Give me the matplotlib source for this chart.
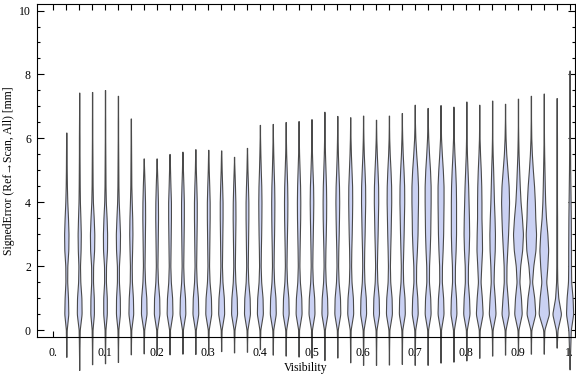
import numpy as np
import matplotlib.pyplot as plt

plt.rcParams['font.family'] = ['Liberation Serif', 'DejaVu Serif']

# violin positions (visibility bins)
visibility = [0.025, 0.05, 0.075, 0.1, 0.125, 0.15, 0.175, 0.2, 0.225, 0.25,
              0.275, 0.3, 0.325, 0.35, 0.375, 0.4, 0.425, 0.45, 0.475, 0.5,
              0.525, 0.55, 0.575, 0.6, 0.625, 0.65, 0.675, 0.7, 0.725, 0.75,
              0.775, 0.8, 0.825, 0.85, 0.875, 0.9, 0.925, 0.95, 0.975, 1.0]

# max / min of the signed error per bin [mm]
err_max = [6.18, 7.43, 7.45, 7.51, 7.33, 6.62, 5.37, 5.37, 5.51, 5.58,
           5.66, 5.64, 5.62, 5.42, 5.70, 6.42, 6.45, 6.51, 6.54, 6.60,
           6.83, 6.70, 6.66, 6.71, 6.58, 6.71, 6.79, 7.05, 6.95, 7.04,
           6.99, 7.15, 7.05, 7.18, 7.08, 7.24, 7.33, 7.40, 7.26, 8.12]
err_min = [-0.84, -1.25, -1.07, -1.04, -1.00, -0.76, -0.73, -0.76, -0.76, -0.74,
           -0.75, -0.76, -0.66, -0.70, -0.68, -0.60, -0.77, -0.80, -0.83, -0.86,
           -0.94, -0.86, -1.01, -1.09, -1.09, -1.08, -1.06, -1.09, -1.09, -1.02,
           -0.99, -0.95, -0.87, -0.80, -0.77, -0.77, -0.74, -0.74, -0.55, -1.23]

# density read at these error levels [mm]
levels = [0.0, 0.5, 1.0, 1.5, 2.0, 2.5, 3.0, 3.5, 4.0, 4.5, 5.0, 5.5, 6.0, 6.5, 7.0]
density = [
    [0.4, 2.0, 1.7, 0.9, 1.0, 2.0, 2.2, 1.7, 1.0, 0.6, 0.4, 0.3, 0.2, 0.0, 0.0],
    [0.5, 2.4, 2.2, 1.1, 0.8, 1.4, 1.6, 1.2, 0.7, 0.5, 0.4, 0.3, 0.3, 0.2, 0.1],
    [0.4, 1.8, 1.7, 0.9, 1.0, 2.0, 2.2, 1.6, 0.8, 0.5, 0.4, 0.3, 0.2, 0.2, 0.1],
    [0.4, 1.8, 1.8, 0.9, 1.0, 2.0, 2.1, 1.6, 0.8, 0.5, 0.4, 0.3, 0.2, 0.2, 0.1],
    [0.4, 2.0, 1.9, 1.0, 1.0, 1.9, 2.1, 1.5, 0.8, 0.5, 0.4, 0.3, 0.2, 0.2, 0.1],
    [0.4, 2.4, 2.1, 1.1, 0.9, 1.3, 1.6, 1.4, 0.9, 0.5, 0.4, 0.3, 0.2, 0.1, 0.0],
    [0.4, 2.8, 2.6, 1.3, 0.8, 1.0, 1.2, 1.4, 1.3, 0.9, 0.4, 0.1, 0.0, 0.0, 0.0],
    [0.4, 2.8, 2.6, 1.3, 0.8, 1.0, 1.2, 1.4, 1.3, 0.9, 0.4, 0.1, 0.0, 0.0, 0.0],
    [0.4, 2.9, 2.6, 1.3, 0.8, 1.0, 1.2, 1.4, 1.4, 0.9, 0.5, 0.2, 0.0, 0.0, 0.0],
    [0.4, 2.9, 2.6, 1.3, 0.8, 1.0, 1.2, 1.4, 1.4, 1.0, 0.5, 0.2, 0.0, 0.0, 0.0],
    [0.4, 2.9, 2.6, 1.3, 0.8, 1.0, 1.2, 1.4, 1.4, 1.0, 0.5, 0.2, 0.0, 0.0, 0.0],
    [0.4, 3.0, 2.7, 1.3, 0.8, 1.0, 1.2, 1.4, 1.4, 1.0, 0.5, 0.2, 0.0, 0.0, 0.0],
    [0.4, 3.0, 2.7, 1.3, 0.8, 1.0, 1.2, 1.4, 1.4, 1.0, 0.5, 0.2, 0.0, 0.0, 0.0],
    [0.4, 3.0, 2.7, 1.3, 0.8, 1.0, 1.2, 1.4, 1.3, 0.9, 0.4, 0.1, 0.0, 0.0, 0.0],
    [0.4, 3.0, 2.7, 1.3, 0.8, 1.0, 1.2, 1.4, 1.4, 1.0, 0.5, 0.2, 0.0, 0.0, 0.0],
    [0.4, 3.0, 2.7, 1.3, 0.8, 1.0, 1.3, 1.5, 1.6, 1.4, 0.9, 0.5, 0.2, 0.0, 0.0],
    [0.4, 3.0, 2.7, 1.3, 0.8, 1.0, 1.3, 1.5, 1.6, 1.4, 0.9, 0.5, 0.2, 0.0, 0.0],
    [0.4, 3.0, 2.7, 1.3, 0.8, 1.0, 1.3, 1.6, 1.7, 1.5, 1.0, 0.5, 0.2, 0.0, 0.0],
    [0.4, 3.0, 2.7, 1.3, 0.8, 1.0, 1.3, 1.6, 1.7, 1.5, 1.0, 0.5, 0.2, 0.0, 0.0],
    [0.4, 3.0, 2.7, 1.3, 0.8, 1.0, 1.3, 1.6, 1.8, 1.6, 1.0, 0.5, 0.2, 0.1, 0.0],
    [0.4, 3.0, 2.7, 1.3, 0.8, 1.0, 1.4, 1.7, 1.8, 1.6, 1.1, 0.6, 0.3, 0.1, 0.0],
    [0.4, 3.0, 2.7, 1.3, 0.8, 1.0, 1.4, 1.7, 1.9, 1.7, 1.1, 0.6, 0.3, 0.1, 0.0],
    [0.4, 3.0, 2.7, 1.3, 0.9, 1.1, 1.5, 1.8, 2.0, 1.9, 1.3, 0.7, 0.3, 0.1, 0.0],
    [0.4, 3.0, 2.7, 1.3, 0.9, 1.1, 1.5, 1.8, 2.1, 2.0, 1.4, 0.7, 0.3, 0.1, 0.0],
    [0.4, 3.0, 2.7, 1.3, 0.9, 1.2, 1.6, 1.9, 2.2, 2.1, 1.5, 0.8, 0.3, 0.1, 0.0],
    [0.4, 3.0, 2.7, 1.3, 1.0, 1.3, 1.7, 2.0, 2.3, 2.2, 1.6, 0.8, 0.3, 0.1, 0.0],
    [0.4, 3.0, 2.7, 1.3, 1.0, 1.4, 1.8, 2.1, 2.4, 2.3, 1.7, 0.9, 0.4, 0.1, 0.0],
    [0.4, 3.0, 2.6, 1.3, 1.4, 2.2, 2.8, 3.0, 3.3, 3.3, 2.6, 1.5, 0.6, 0.2, 0.0],
    [0.4, 3.0, 2.6, 1.3, 1.4, 2.1, 2.6, 2.8, 3.0, 3.0, 2.4, 1.4, 0.6, 0.2, 0.0],
    [0.4, 3.0, 2.6, 1.3, 1.4, 2.1, 2.6, 2.8, 3.0, 3.0, 2.3, 1.3, 0.5, 0.2, 0.0],
    [0.4, 3.0, 2.6, 1.4, 1.5, 2.2, 2.6, 2.6, 2.6, 2.4, 1.8, 1.0, 0.4, 0.1, 0.0],
    [0.4, 3.2, 2.7, 1.5, 1.6, 2.4, 2.8, 2.6, 2.2, 1.8, 1.2, 0.6, 0.3, 0.1, 0.0],
    [0.4, 3.4, 2.6, 1.3, 2.0, 2.8, 2.6, 2.2, 2.2, 2.0, 1.5, 0.8, 0.3, 0.1, 0.0],
    [0.4, 3.4, 2.6, 1.4, 1.8, 2.6, 2.8, 2.4, 1.8, 1.4, 1.0, 0.5, 0.2, 0.1, 0.0],
    [0.4, 3.6, 2.6, 1.3, 1.4, 2.2, 3.0, 3.6, 4.0, 3.6, 2.4, 1.2, 0.5, 0.2, 0.0],
    [0.4, 3.8, 3.0, 1.4, 2.2, 4.2, 5.0, 4.0, 2.6, 1.8, 1.2, 0.6, 0.3, 0.1, 0.0],
    [0.4, 4.4, 3.4, 1.2, 2.4, 4.6, 5.2, 4.4, 4.0, 3.2, 2.0, 1.0, 0.4, 0.2, 0.0],
    [0.5, 5.2, 4.2, 2.4, 3.6, 4.4, 3.6, 2.2, 1.4, 1.0, 0.7, 0.4, 0.2, 0.1, 0.0],
    [0.8, 4.4, 1.6, 0.6, 0.4, 0.4, 0.4, 0.4, 0.3, 0.3, 0.3, 0.3, 0.3, 0.2, 0.1],
    [1.2, 3.6, 3.0, 1.6, 1.4, 1.4, 1.3, 1.2, 1.0, 0.8, 0.6, 0.5, 0.4, 0.3, 0.2],
]

fig, ax = plt.subplots(figsize=(5.76, 3.77), dpi=100)
fig.subplots_adjust(left=0.0634, right=0.999, bottom=0.106, top=0.989)

scale = 0.025 / 12.92  # one density unit ~ one pixel of half width
kernel = np.ones(9) / 9

for x0, lo, hi, dens in zip(visibility, err_min, err_max, density):
    ys = [lo] + [l for l in levels if lo < l < hi] + [hi]
    ws = [0.0] + [d for l, d in zip(levels, dens) if lo < l < hi] + [0.0]
    yy = np.linspace(lo, hi, 500)
    ww = np.interp(yy, ys, ws)
    ww = np.convolve(np.pad(ww, 4, mode='edge'), kernel, mode='valid')
    ww = np.maximum(ww, 0.15)
    ax.fill_betweenx(yy, x0 - ww * scale, x0 + ww * scale,
                     facecolor='#cad1f3', edgecolor='#4a4a4a', lw=0.8,
                     clip_on=False, zorder=2)

ax.set_xlim(-0.0327, 1.0113)
ax.set_ylim(-0.22, 10.2)

ax.set_xticks(np.arange(0, 1.01, 0.1))
ax.set_xticklabels(['0.', '0.1', '0.2', '0.3', '0.4', '0.5', '0.6', '0.7', '0.8', '0.9', '1.'])
ax.set_xticks(np.arange(0, 1.01, 0.025), minor=True)
ax.set_yticks(np.arange(0, 10.1, 2))
ax.set_yticks(np.arange(0, 10.1, 0.5), minor=True)

ax.tick_params(which='both', direction='in', top=True, right=True, labelsize=8.5, width=0.8)
ax.tick_params(axis='x', which='both', length=4, pad=7)
ax.tick_params(axis='y', which='major', length=5, pad=4)
ax.tick_params(axis='y', which='minor', length=2.5)

for s in ax.spines.values():
    s.set_linewidth(0.8)

ax.set_xlabel('Visibility', fontsize=8.5, labelpad=2)
ax.set_ylabel('SignedError (Ref\u2192Scan, All) [mm]', fontsize=8.5, labelpad=3)

fig.savefig('out.png', dpi=100)
